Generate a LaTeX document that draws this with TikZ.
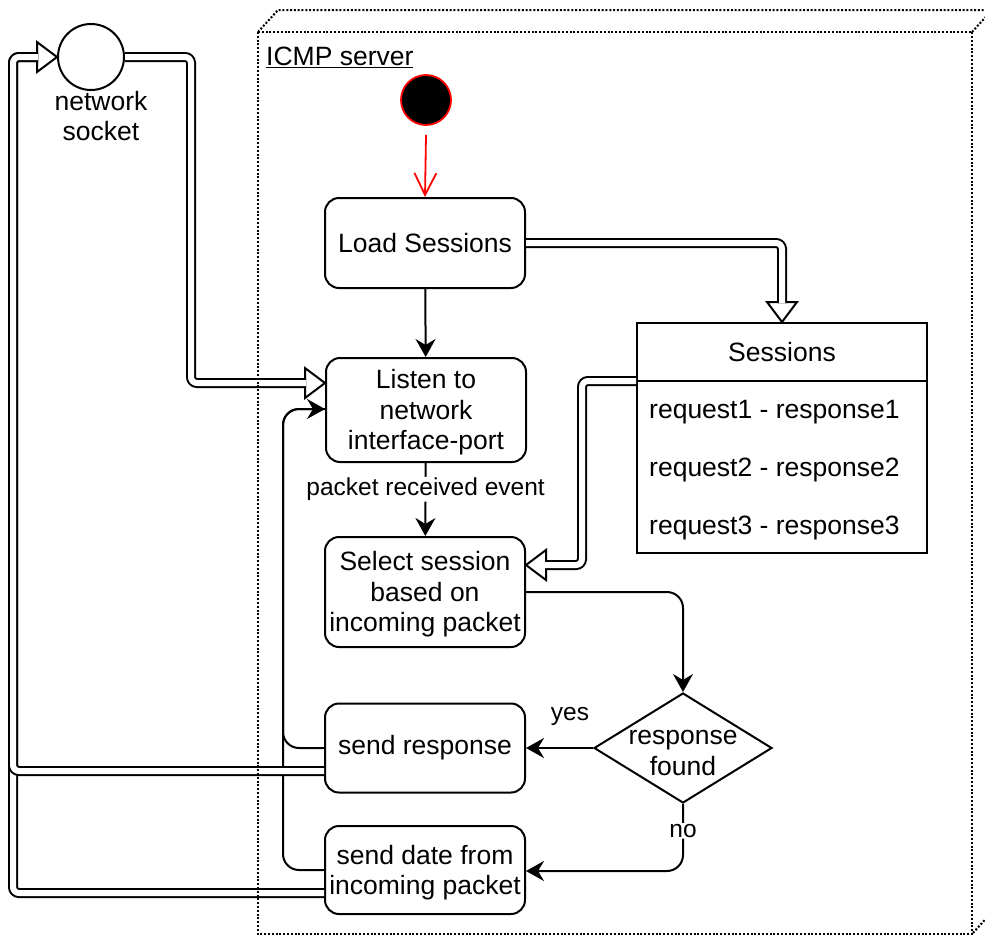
\documentclass[tikz,border=0pt]{standalone}
\usepackage{fontspec}
\setmainfont{Liberation Sans}
\usetikzlibrary{arrows.meta,shapes.geometric,calc}
\begin{document}
\begin{tikzpicture}[x=1pt,y=-1pt,
  every node/.style={font=\fontsize{26.5pt}{30.5pt}\selectfont, text=black},
  proc/.style={draw, line width=2pt, rounded corners=14pt, fill=white, align=center, minimum width=200pt, inner sep=2pt},
  decide/.style={draw, line width=2pt, diamond, aspect=1.62, minimum width=178pt, minimum height=110pt, inner sep=0pt, fill=white, align=center},
  lbl/.style={font=\fontsize{24.5pt}{28pt}\selectfont, fill=white, inner sep=1pt},
  arr/.style={draw, line width=2pt, rounded corners=16pt, -{Stealth[length=18pt,width=20pt,inset=6pt]}},
  plain/.style={draw, line width=2pt, rounded corners=16pt},
  dbl/.style={draw, line width=2pt, double=white, double distance=6pt, rounded corners=6pt},
  hollowtip/.style={draw, line width=2pt, fill=white, line join=miter},
  sbox/.style={line width=2pt, dash pattern=on 2pt off 1.8pt}
]
\useasboundingbox (0,0) rectangle (985,937);

% nodes
\node[circle, draw, line width=2pt, minimum size=66pt, inner sep=0pt] (sock) at (91,57) {};
\node[align=center, inner sep=0pt] (socklbl) at (101,116) {network\\socket};
\node[anchor=west, inner sep=0pt] (icmp) at (266,57) {\underline{ICMP server}};
\node[circle, draw=red, fill=black, line width=1.8pt, minimum size=50pt, inner sep=0pt] (start) at (426,100) {};

\node[proc, minimum height=90pt] (load) at (425,243) {Load Sessions};
\node[proc, minimum height=104pt] (listen) at (426,410) {\rule{0pt}{24pt}Listen to\\network\\interface-port};
\node[proc, minimum height=110pt] (sel) at (425,592) {\rule{0pt}{24pt}Select session\\based on\\incoming packet};
\node[proc, minimum height=89pt] (resp) at (425,748) {send response};
\node[proc, minimum height=88pt] (date) at (425,870) {\rule{0pt}{24pt}send date from\\incoming packet};
\node[decide] (dec) at (683,748) {};
\node[align=center, inner sep=0pt] (dectext) at (dec.center) {\rule{0pt}{24pt}response\\found};

\node[draw, line width=2pt, minimum width=290pt, minimum height=230pt, fill=white] (sess) at (782,438) {};
\node[draw, line width=2pt, minimum width=290pt, minimum height=58pt, anchor=north] (sesshead) at (sess.north) {Sessions};
\node[anchor=west, inner sep=0pt] (r1) at (649,412) {request1 - response1};
\node[anchor=west, inner sep=0pt] (r2) at (649,470) {request2 - response2};
\node[anchor=west, inner sep=0pt] (r3) at (649,528) {request3 - response3};

% helper coordinates
\coordinate (aT) at (listen.west |- 0,383);
\coordinate (eT) at (sel.east |- 0,565);
\coordinate (bS) at (resp.west |- 0,771);
\coordinate (cS) at (date.west |- 0,893);
\coordinate (lT) at (listen.west |- 0,409);
\coordinate (lx) at (283,0);
\coordinate (dT) at (date.east |- 0,871);

% red start arrow
\draw[red, line width=1.8pt, -{Straight Barb[length=22pt,width=22pt,line width=1.8pt]}] ([yshift=-9pt]start.south) -- (load.north);

% single arrows
\draw[arr] (load) -- (listen);
\draw[arr] (listen) -- node[lbl, pos=0.36] (pre) {packet received event} (sel);
\draw[arr] (sel.east) -| (dec.north);
\draw[arr] (dec.west) -- (resp.east |- dec.west);
\node[lbl] (yes) at (570,716) {yes};
\draw[arr] (dec.south) |- node[lbl, pos=0.2] (no) {no} (dT);
\draw[plain] (date.west) -- (lx |- date.west) -- (lx |- lT) -- (lT);
\draw[arr] (resp.west) -- (lx |- resp.west) -- (lx |- lT) -- (lT);

% double (hollow) connectors
\draw[hollowtip] (aT) -- ++(-20,-15) -- ++(0,30) -- cycle;
\draw[dbl] (sock.east) -- (191,57) -- (191,383) -- ([xshift=-19pt]aT);

\draw[hollowtip] (sock.west) -- ++(-20,-15) -- ++(0,30) -- cycle;
\draw[dbl] (cS) -- (13,893) -- (13,57) -- ([xshift=-19pt]sock.west);
\draw[dbl] (bS) -- (13,771) -- (13,57) -- ([xshift=-19pt]sock.west);

\draw[hollowtip] (sesshead.north) -- ++(-15,-20) -- ++(30,0) -- cycle;
\draw[dbl] (load.east) -- (sesshead.north |- load.east) -- ([yshift=19pt]sesshead.north);

\draw[hollowtip] (eT) -- ++(20,-15) -- ++(0,30) -- cycle;
\draw[dbl] (sess.west |- 0,381) -- (582,381) -- (582,565) -- ([xshift=19pt]eT);

% server box (dotted 3D)
\draw[sbox] (258,32) rectangle (972,934);
\draw[sbox] (258,32) -- (278,10) -- (992,10) -- (992,912) -- (972,934);
\draw[sbox] (972,32) -- (992,10);
\end{tikzpicture}
\end{document}
